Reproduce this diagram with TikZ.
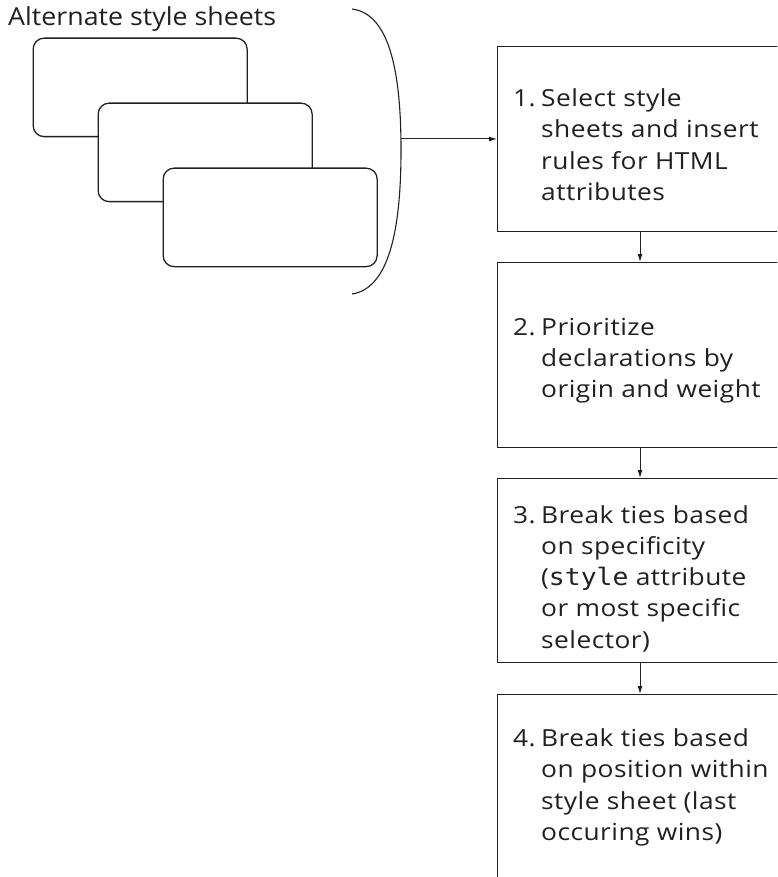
\documentclass[tikz,border=0pt]{standalone}
\usepackage{fontspec}
\setmainfont{Open Sans}
\newfontfamily\stepfont[FakeStretch=1.12,LetterSpace=2]{Open Sans}
\newfontfamily\titlefont[FakeStretch=1.08]{Open Sans}
\newfontfamily\monofnt[FakeStretch=1.1]{DejaVu Sans Mono}
\usetikzlibrary{arrows.meta}
\definecolor{ink}{HTML}{231F20}
\newcommand\stepnum[1]{\makebox[28pt][l]{#1}}
\newcommand\steppar[2]{\parbox[t]{270pt}{\stepfont\fontsize{23.5}{31.3}\selectfont\hangindent=28pt\hangafter=1\noindent\stepnum{#1}#2}}
\begin{document}
\begin{tikzpicture}[x=1pt,y=-1pt,
  sheet/.style={draw=ink, fill=white, rounded corners=11pt, line width=1.3pt, anchor=north west, inner sep=0pt},
  stepbox/.style={draw=ink, line width=1.3pt, anchor=north west, minimum width=300pt, inner sep=0pt},
  flow/.style={draw=ink, line width=1pt, -{Latex[length=8pt,width=5pt]}},
  steptext/.style={anchor=base west, inner sep=0pt, text=ink}]
\useasboundingbox (0,0) rectangle (777,877);
\clip (0,0) rectangle (777,877);
% title
\node[anchor=base west, inner sep=0pt, text=ink, font=\titlefont\fontsize{24.8}{30}\selectfont] (title) at (8,26) {Alternate style sheets};
% stacked sheets
\node[sheet, minimum width=214pt, minimum height=98.5pt] (s1) at (32.5,37.5) {};
\node[sheet, minimum width=214pt, minimum height=98.5pt] (s2) at (97.5,102.5) {};
\node[sheet, minimum width=214pt, minimum height=98.5pt] (s3) at (162.5,167.5) {};
% brace
\draw[ink, line width=1.1pt] (352,9) .. controls (392,14) and (401,80) .. (401,150) .. controls (401,220) and (392,288) .. (352,294);
\coordinate (brace) at (401,139);
% step boxes
\node[stepbox, minimum height=185pt] (b1) at (497,46) {};
\node[stepbox, minimum height=184.5pt] (b2) at (497,262) {};
\node[stepbox, minimum height=184pt] (b3) at (497,478) {};
\node[stepbox, minimum height=206pt] (b4) at (497,694) {};
% texts
\node[steptext] (t1) at (513,106.5) {\steppar{1.}{Select style\\sheets and insert\\rules for HTML\\attributes}};
\node[steptext] (t2) at (513,335) {\steppar{2.}{Prioritize\\declarations by\\origin and weight}};
\node[steptext] (t3) at (513,523) {\steppar{3.}{Break ties based\\on specificity\\({\monofnt\fontsize{24}{31.3}\selectfont style}~attribute\\or most specific\\selector)}};
\node[steptext] (t4) at (513,746.5) {\steppar{4.}{Break ties based\\on position within\\style sheet (last\\occuring wins)}};
% connectors
\draw[flow] (brace) -- (brace -| b1.west);
\draw[flow] ([xshift=143pt]b1.south west) -- ([xshift=143pt]b2.north west);
\draw[flow] ([xshift=143pt]b2.south west) -- ([xshift=143pt]b3.north west);
\draw[flow] ([xshift=143pt]b3.south west) -- ([xshift=143pt]b4.north west);
\end{tikzpicture}
\end{document}
